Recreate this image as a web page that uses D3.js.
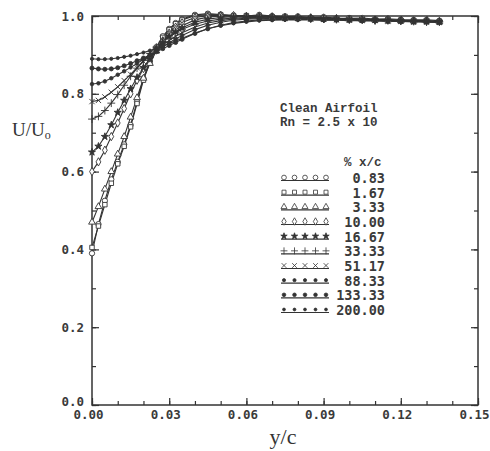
<!DOCTYPE html>
<html>
<head>
<meta charset="utf-8">
<script src="https://cdn.jsdelivr.net/npm/d3@7"></script>
<style>
  body { margin: 0; background: #fff; }
  svg { display: block; }
  .tick text { font-family: "DejaVu Sans Mono", monospace; font-weight: bold; font-size: 12.5px; fill: #3a3a3a; }
  .axis path { display: none; }
  .axis line { stroke: #333; stroke-width: 1.2; }
</style>
</head>
<body>
<div id="chart"></div>
<script>
// y/c stations (shared by every profile)
const yc = [0, 0.0025, 0.005, 0.0075, 0.01, 0.0125, 0.015, 0.0175, 0.02, 0.0225, 0.025, 0.0275, 0.03, 0.0325, 0.035,
    0.04, 0.045, 0.05, 0.055, 0.06, 0.065, 0.07, 0.075, 0.08, 0.085, 0.09, 0.095, 0.10, 0.105, 0.11, 0.115, 0.12, 0.125, 0.13, 0.135];

// U/Uo profiles, one per % x/c station
const u083 = [0.39, 0.465, 0.525, 0.58, 0.625, 0.67, 0.72, 0.78, 0.84, 0.885, 0.92, 0.948, 0.967, 0.982, 0.992, 1.003, 1.006, 1.004, 1.002, 1.0, 1.003, 1.0, 0.998, 0.999, 0.996, 0.997, 0.995, 0.994, 0.995, 0.992, 0.993, 0.991, 0.99, 0.99, 0.988];
const u167 = [0.405, 0.46, 0.515, 0.57, 0.62, 0.665, 0.715, 0.775, 0.835, 0.88, 0.917, 0.945, 0.965, 0.98, 0.99, 1.001, 1.004, 1.003, 1.0, 1.001, 0.999, 0.998, 0.999, 0.996, 0.995, 0.996, 0.993, 0.994, 0.992, 0.99, 0.991, 0.989, 0.988, 0.988, 0.986];
const u333 = [0.47, 0.51, 0.555, 0.6, 0.645, 0.69, 0.74, 0.79, 0.84, 0.878, 0.91, 0.937, 0.957, 0.972, 0.983, 0.996, 1.001, 1.002, 1.0, 0.999, 1.0, 0.997, 0.997, 0.995, 0.996, 0.993, 0.994, 0.992, 0.991, 0.99, 0.99, 0.988, 0.987, 0.987, 0.985];
const u1000 = [0.6, 0.625, 0.655, 0.69, 0.725, 0.762, 0.8, 0.835, 0.865, 0.892, 0.915, 0.935, 0.952, 0.965, 0.975, 0.99, 0.997, 1.0, 1.001, 0.999, 0.998, 0.998, 0.996, 0.996, 0.994, 0.995, 0.992, 0.992, 0.991, 0.989, 0.99, 0.988, 0.987, 0.986, 0.986];
const u1667 = [0.65, 0.665, 0.69, 0.72, 0.752, 0.783, 0.813, 0.842, 0.867, 0.89, 0.912, 0.932, 0.948, 0.96, 0.97, 0.984, 0.992, 0.996, 0.998, 0.998, 0.997, 0.997, 0.995, 0.995, 0.994, 0.993, 0.992, 0.991, 0.99, 0.99, 0.988, 0.988, 0.986, 0.986, 0.985];
const u3333 = [0.735, 0.742, 0.757, 0.776, 0.798, 0.822, 0.845, 0.866, 0.886, 0.904, 0.92, 0.934, 0.946, 0.957, 0.966, 0.979, 0.987, 0.992, 0.995, 0.996, 0.996, 0.995, 0.995, 0.994, 0.993, 0.992, 0.992, 0.99, 0.99, 0.989, 0.988, 0.987, 0.987, 0.985, 0.985];
const u5117 = [0.78, 0.783, 0.792, 0.804, 0.818, 0.834, 0.85, 0.867, 0.883, 0.898, 0.912, 0.925, 0.937, 0.948, 0.957, 0.972, 0.982, 0.988, 0.992, 0.994, 0.995, 0.995, 0.994, 0.994, 0.993, 0.992, 0.991, 0.99, 0.99, 0.989, 0.988, 0.987, 0.986, 0.986, 0.985];
const u8833 = [0.825, 0.827, 0.832, 0.84, 0.849, 0.858, 0.868, 0.878, 0.889, 0.9, 0.911, 0.921, 0.931, 0.941, 0.95, 0.965, 0.976, 0.984, 0.989, 0.992, 0.993, 0.994, 0.993, 0.993, 0.992, 0.992, 0.991, 0.99, 0.989, 0.989, 0.988, 0.987, 0.986, 0.986, 0.985];
const u13333 = [0.866, 0.864, 0.863, 0.864, 0.867, 0.872, 0.878, 0.885, 0.892, 0.9, 0.908, 0.916, 0.924, 0.932, 0.94, 0.955, 0.967, 0.976, 0.983, 0.987, 0.99, 0.991, 0.992, 0.991, 0.991, 0.99, 0.99, 0.989, 0.988, 0.988, 0.987, 0.986, 0.986, 0.985, 0.984];
const u20000 = [0.89, 0.889, 0.889, 0.89, 0.892, 0.895, 0.898, 0.902, 0.906, 0.911, 0.917, 0.923, 0.929, 0.936, 0.943, 0.956, 0.967, 0.975, 0.981, 0.985, 0.988, 0.989, 0.99, 0.99, 0.99, 0.989, 0.989, 0.988, 0.988, 0.987, 0.986, 0.986, 0.985, 0.985, 0.984];

const stations = ["0.83", "1.67", "3.33", "10.00", "16.67", "33.33", "51.17", "88.33", "133.33", "200.00"];
const profiles = [u083, u167, u333, u1000, u1667, u3333, u5117, u8833, u13333, u20000];

const xMajorTicks = [0, 0.03, 0.06, 0.09, 0.12, 0.15];
const yMajorTicks = [0, 0.2, 0.4, 0.6, 0.8, 1.0];

const width = 490, height = 451;
const margin = {top: 16, right: 12, bottom: 46, left: 92};
const ink = "#333";

// marker style per station
const markers = [
    {type: d3.symbolCircle, size: 22, fill: "#fff"},
    {type: d3.symbolSquare, size: 20, fill: "#fff"},
    {type: d3.symbolTriangle, size: 20, fill: "#fff"},
    {type: d3.symbolDiamond, size: 20, fill: "#fff"},
    {type: d3.symbolStar, size: 16, fill: ink},
    {type: d3.symbolPlus, size: 22, fill: "none"},
    {type: d3.symbolTimes, size: 20, fill: "none"},
    {type: d3.symbolCircle, size: 10, fill: ink},
    {type: d3.symbolCircle, size: 13, fill: ink},
    {type: d3.symbolCircle, size: 8, fill: ink}
];

const svg = d3.select("#chart").append("svg")
    .attr("width", width)
    .attr("height", height);

const x = d3.scaleLinear().domain([0, 0.15]).range([margin.left, width - margin.right]);
const y = d3.scaleLinear().domain([0, 1]).range([height - margin.bottom, margin.top]);

// axes: minor ticks first, then major with labels
const xMinor = d3.range(0, 0.1501, 0.01);
const yMinor = d3.range(0, 1.001, 0.1);

svg.append("g").attr("class", "axis")
    .attr("transform", `translate(0,${y(0)})`)
    .call(d3.axisBottom(x).tickValues(xMinor).tickSize(-4).tickFormat(""));
svg.append("g").attr("class", "axis x-major")
    .attr("transform", `translate(0,${y(0)})`)
    .call(d3.axisBottom(x).tickValues(xMajorTicks).tickSize(-7).tickPadding(5).tickFormat(d3.format(".2f")));
svg.selectAll(".x-major text").attr("dx", -4);
svg.append("g").attr("class", "axis")
    .attr("transform", `translate(0,${y(1)})`)
    .call(d3.axisTop(x).tickValues(xMinor).tickSize(-4).tickFormat(""));
svg.append("g").attr("class", "axis")
    .attr("transform", `translate(0,${y(1)})`)
    .call(d3.axisTop(x).tickValues(xMajorTicks).tickSize(-7).tickFormat(""));

svg.append("g").attr("class", "axis")
    .attr("transform", `translate(${x(0)},0)`)
    .call(d3.axisLeft(y).tickValues(yMinor).tickSize(-4).tickFormat(""));
svg.append("g").attr("class", "axis y-major")
    .attr("transform", `translate(${x(0)},0)`)
    .call(d3.axisLeft(y).tickValues(yMajorTicks).tickSize(-7).tickPadding(8).tickFormat(d3.format(".1f")));
svg.selectAll(".y-major .tick").filter(d => d === 0).select("text").attr("dy", "0.05em");
svg.append("g").attr("class", "axis")
    .attr("transform", `translate(${x(0.15)},0)`)
    .call(d3.axisRight(y).tickValues(yMinor).tickSize(-4).tickFormat(""));
svg.append("g").attr("class", "axis")
    .attr("transform", `translate(${x(0.15)},0)`)
    .call(d3.axisRight(y).tickValues(yMajorTicks).tickSize(-7).tickFormat(""));

// frame
svg.append("rect")
    .attr("x", x(0))
    .attr("y", y(1))
    .attr("width", x(0.15) - x(0))
    .attr("height", y(0) - y(1))
    .attr("fill", "none")
    .attr("stroke", ink)
    .attr("stroke-width", 1.5);

// profiles
const line = d3.line()
    .x((d, i) => x(yc[i]))
    .y(d => y(d));

const series = svg.append("g").attr("class", "profiles");

profiles.forEach((p, k) => {
    series.append("path")
        .datum(p)
        .attr("d", line)
        .attr("fill", "none")
        .attr("stroke", ink)
        .attr("stroke-width", 1.1);
});

profiles.forEach((p, k) => {
    const m = markers[k];
    series.append("g")
        .selectAll("path")
        .data(p)
        .enter().append("path")
        .attr("transform", (d, i) => `translate(${x(yc[i])},${y(d)})`)
        .attr("d", d3.symbol().type(m.type).size(m.size))
        .attr("fill", m.fill)
        .attr("stroke", ink)
        .attr("stroke-width", 0.9);
});

// annotations
const note = svg.append("g")
    .style("font-family", "'Liberation Mono', monospace")
    .style("font-size", "12.5px")
    .style("font-weight", "bold")
    .attr("fill", "#3a3a3a");

note.append("text").attr("x", 280).attr("y", 112).text("Clean Airfoil");
note.append("text").attr("x", 280).attr("y", 126).text("Rn = 2.5 x 10");
note.append("text").attr("x", 344).attr("y", 166).text("% x/c");

// legend
const legend = svg.append("g").attr("class", "legend");
const rowY = d3.scaleLinear().domain([0, 9]).range([178, 310]);
const sampleX = [284, 294.5, 305, 315.5, 326];

stations.forEach((s, k) => {
    const m = markers[k];
    const g = legend.append("g").attr("transform", `translate(0,${rowY(k)})`);
    g.append("line")
        .attr("x1", 281).attr("x2", 329)
        .attr("y1", 2.5).attr("y2", 2.5)
        .attr("stroke", ink)
        .attr("stroke-width", 1.1);
    g.selectAll("path")
        .data(sampleX)
        .enter().append("path")
        .attr("transform", d => `translate(${d},-0.5)`)
        .attr("d", d3.symbol().type(m.type).size(m.size * 0.8))
        .attr("fill", m.fill)
        .attr("stroke", ink)
        .attr("stroke-width", 0.8);
    g.append("text")
        .attr("x", 385)
        .attr("y", 5)
        .attr("text-anchor", "end")
        .style("font-family", "'DejaVu Sans Mono', monospace")
        .style("font-weight", "bold")
        .style("font-size", "13.5px")
        .attr("fill", "#3a3a3a")
        .text(s);
});

// axis titles
const yTitle = svg.append("text")
    .attr("x", 12)
    .attr("y", 136)
    .style("font-family", "'Liberation Serif', serif")
    .style("font-size", "19px")
    .attr("fill", "#333");
yTitle.append("tspan").text("U/U");
yTitle.append("tspan").attr("dy", 3).style("font-size", "12px").text("o");

svg.append("text")
    .attr("x", 283)
    .attr("y", 444)
    .attr("text-anchor", "middle")
    .style("font-family", "'Liberation Serif', serif")
    .style("font-size", "22px")
    .attr("fill", "#333")
    .text("y/c");
</script>
</body>
</html>
